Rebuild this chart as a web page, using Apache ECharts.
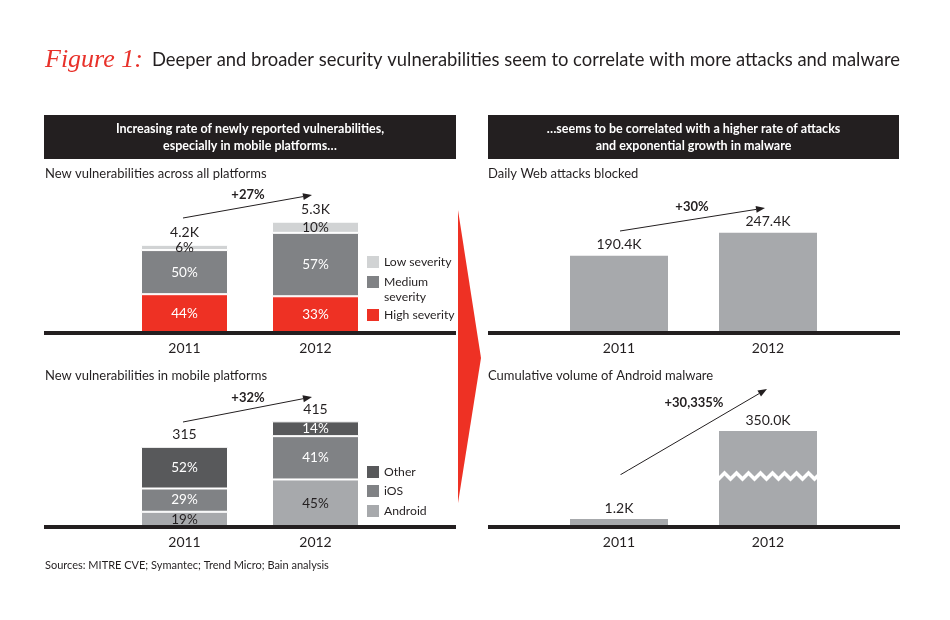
<!DOCTYPE html>
<html>
<head>
<meta charset="utf-8">
<title>Figure 1</title>
<script src="https://cdn.jsdelivr.net/npm/echarts@6/dist/echarts.min.js"></script>
<style>
  html, body { margin: 0; padding: 0; background: #fff; }
  #chart { width: 950px; height: 620px; }
</style>
</head>
<body>
<div id="chart"></div>
<script>
var years = ['2011', '2012'];

// new vulnerabilities across all platforms (K) and severity split (%)
var allTotals = [4.2, 5.3];
var highPct = [44, 33];
var mediumPct = [50, 57];
var lowPct = [6, 10];

// new vulnerabilities in mobile platforms and split (%)
var mobileTotals = [315, 415];
var androidPct = [19, 45];
var iosPct = [29, 41];
var otherPct = [52, 14];

// daily web attacks blocked (K), cumulative android malware (K)
var webAttacks = [190.4, 247.4];
var androidMalware = [1.2, 350.0];

var dark = '#231f20';
var font = 'Lato';
var red = '#ee3124';

function kFmt(v) { return v.toFixed(1) + 'K'; }

// one segment of a stacked 100% bar
function part(name, totals, pct, color, labelColor, xi) {
  return {
    name: name, type: 'bar', stack: 's' + xi,
    xAxisIndex: xi, yAxisIndex: xi, barWidth: 87,
    data: totals.map(function (t, i) { return t * pct[i] / 100; }),
    itemStyle: { color: color, borderColor: '#fff', borderWidth: 1 },
    label: {
      show: true, position: 'inside', color: labelColor, fontSize: 13.5, fontFamily: font,
      formatter: function (p) { return pct[p.dataIndex] + '%'; }
    }
  };
}

// total above the stack, put on top segment as markPoint
function withTotal(s, totals, fmt) {
  s.markPoint = {
    symbol: 'rect', symbolSize: 0, silent: true,
    label: { show: true, position: 'top', distance: 5, color: dark, fontSize: 14, fontFamily: font,
      formatter: function (p) { return fmt(p.value); } },
    data: totals.map(function (t, i) { return { coord: [i, t], value: t }; })
  };
  return s;
}

function legendItem(name, top) {
  return {
    orient: 'vertical', left: 367, top: top, padding: 0, itemGap: 0,
    itemWidth: 12, itemHeight: 12, icon: 'rect', selectedMode: false,
    itemStyle: { borderWidth: 0 },
    textStyle: { fontSize: 12.2, fontFamily: font, color: dark, lineHeight: 15 },
    // blank first line keeps "Medium" level with its swatch
    formatter: function (n) { return n === 'Medium severity' ? '\nMedium\nseverity' : n; },
    data: [name]
  };
}

function arrow(x1, y1, x2, y2) {
  var a = Math.atan2(y2 - y1, x2 - x1), L = 9, W = 3.5;
  var bx = x2 - L * Math.cos(a), by = y2 - L * Math.sin(a);
  var px = -Math.sin(a) * W, py = Math.cos(a) * W;
  return [
    { type: 'line', z: 100, shape: { x1: x1, y1: y1, x2: bx, y2: by }, style: { stroke: dark, lineWidth: 1 } },
    { type: 'polygon', z: 100, shape: { points: [[x2, y2], [bx + px, by + py], [bx - px, by - py]] }, style: { fill: dark } }
  ];
}

function txt(x, y, text, opt) {
  var st = { text: text, fill: dark, fontSize: 13, fontFamily: font, verticalAlign: 'middle', align: 'left' };
  for (var k in opt) st[k] = opt[k];
  return { type: 'text', z: 100, x: x, y: y, style: st };
}

function xAx(gi) {
  return {
    gridIndex: gi, type: 'category', data: years,
    axisLine: { show: false }, axisTick: { show: false },
    axisLabel: { color: dark, fontSize: 14, fontFamily: font, margin: 8 }
  };
}
function yAx(gi, max) {
  return { gridIndex: gi, type: 'value', min: 0, max: max, show: false };
}

var chart = echarts.init(document.getElementById('chart'));

var graphics = [
  txt(45, 60, 'Figure 1:', { fill: '#e8312a', fontSize: 26, fontFamily: 'Liberation Serif', fontStyle: 'italic' }),
  txt(152, 60, 'Deeper and broader security vulnerabilities seem to correlate with more attacks and malware', { fontSize: 18.4 }),
  { type: 'rect', shape: { x: 44, y: 115, width: 412, height: 44 }, style: { fill: dark } },
  { type: 'rect', shape: { x: 488, y: 115, width: 411, height: 44 }, style: { fill: dark } },
  txt(250, 137, 'Increasing rate of newly reported vulnerabilities,\nespecially in mobile platforms\u2026',
    { fill: '#fff', fontWeight: 'bold', fontSize: 12.5, lineHeight: 17, align: 'center' }),
  txt(693.5, 137, '\u2026seems to be correlated with a higher rate of attacks\nand exponential growth in malware',
    { fill: '#fff', fontWeight: 'bold', fontSize: 12.5, lineHeight: 17, align: 'center' }),
  txt(45, 174, 'New vulnerabilities across all platforms'),
  txt(45, 376, 'New vulnerabilities in mobile platforms'),
  txt(488, 174, 'Daily Web attacks blocked'),
  txt(488, 376, 'Cumulative volume of Android malware'),
  txt(45, 565, 'Sources: MITRE CVE; Symantec; Trend Micro; Bain analysis', { fontSize: 11 }),
  { type: 'rect', z: 50, shape: { x: 44, y: 331, width: 412, height: 4 }, style: { fill: dark } },
  { type: 'rect', z: 50, shape: { x: 44, y: 525, width: 412, height: 4 }, style: { fill: dark } },
  { type: 'rect', z: 50, shape: { x: 488, y: 331, width: 412, height: 4 }, style: { fill: dark } },
  { type: 'rect', z: 50, shape: { x: 488, y: 525, width: 412, height: 4 }, style: { fill: dark } },
  { type: 'polygon', shape: { points: [[458, 210], [481, 358], [458, 503]] }, style: { fill: red } },
  txt(248, 195, '+27%', { fontWeight: 'bold', align: 'center' }),
  txt(248, 398, '+32%', { fontWeight: 'bold', align: 'center' }),
  txt(692, 207, '+30%', { fontWeight: 'bold', align: 'center' }),
  txt(694, 403, '+30,335%', { fontWeight: 'bold', align: 'center' })
].concat(arrow(183, 218, 312, 195), arrow(183, 422, 312, 397),
  arrow(620, 231, 765, 208), arrow(620, 475, 767, 389));

chart.setOption({
  animation: false,
  textStyle: { fontFamily: font },
  grid: [
    { left: 119, width: 262, top: 186, height: 147 },
    { left: 119, width: 262, top: 387, height: 140 },
    { left: 544.5, width: 298, top: 183, height: 150 },
    { left: 544.5, width: 298, top: 387, height: 140 }
  ],
  xAxis: [xAx(0), xAx(1), xAx(2), xAx(3)],
  yAxis: [
    yAx(0, 7), yAx(1, 550), yAx(2, 370),
    {
      gridIndex: 3, type: 'value', min: 0, max: 356.6, show: true,
      axisLine: { show: false }, axisTick: { show: false }, axisLabel: { show: false }, splitLine: { show: false },
      breaks: [{ start: 7.3, end: 343.65, gap: 0.75 }],
      breakArea: {
        show: true, expandOnClick: false,
        itemStyle: { color: '#fff', borderColor: '#fff', borderWidth: 0, opacity: 1 },
        zigzagAmplitude: 3, zigzagMinSpan: 6, zigzagMaxSpan: 6
      }
    }
  ],
  legend: [
    legendItem('Low severity', 254.5),
    legendItem('Medium severity', 259.5),
    legendItem('High severity', 307.5),
    legendItem('Other', 464.5),
    legendItem('iOS', 483.5),
    legendItem('Android', 503.5)
  ],
  series: [
    part('High severity', allTotals, highPct, red, '#fff', 0),
    part('Medium severity', allTotals, mediumPct, '#808285', '#fff', 0),
    withTotal(part('Low severity', allTotals, lowPct, '#d1d3d4', dark, 0), allTotals, kFmt),
    part('Android', mobileTotals, androidPct, '#a7a9ac', dark, 1),
    part('iOS', mobileTotals, iosPct, '#808285', '#fff', 1),
    withTotal(part('Other', mobileTotals, otherPct, '#58595b', '#fff', 1), mobileTotals, function (v) { return String(v); }),
    {
      name: 'Daily Web attacks blocked', type: 'bar', xAxisIndex: 2, yAxisIndex: 2, barWidth: 98,
      data: webAttacks, itemStyle: { color: '#a7a9ac' },
      label: { show: true, position: 'top', distance: 4, color: dark, fontSize: 14, fontFamily: font, formatter: function (p) { return kFmt(p.value); } }
    },
    {
      name: 'Cumulative volume of Android malware', type: 'bar', xAxisIndex: 3, yAxisIndex: 3, barWidth: 98,
      data: androidMalware, itemStyle: { color: '#a7a9ac' },
      label: { show: true, position: 'top', distance: 4, color: dark, fontSize: 14, fontFamily: font, formatter: function (p) { return kFmt(p.value); } }
    }
  ],
  graphic: graphics
});
</script>
</body>
</html>
